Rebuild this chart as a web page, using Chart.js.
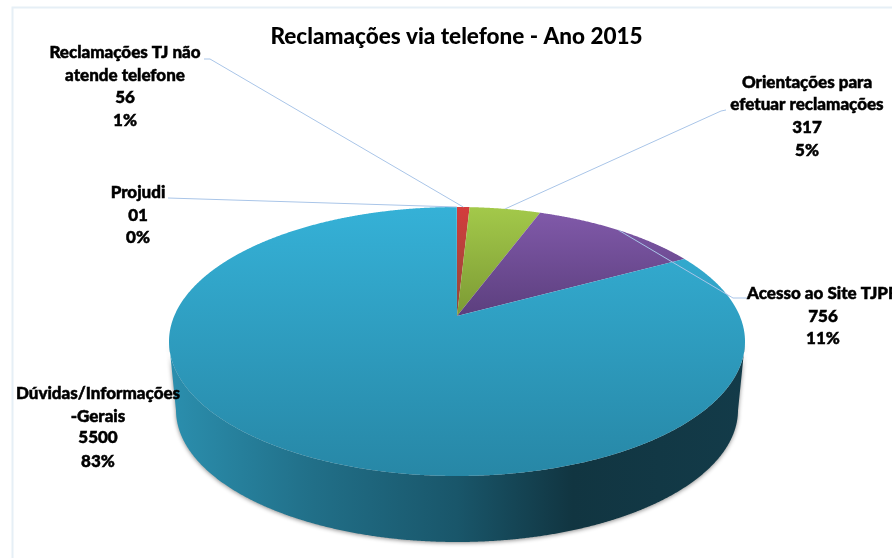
<!DOCTYPE html>
<html>
<head>
<meta charset="utf-8">
<title>Reclamações via telefone - Ano 2015</title>
<script src="https://cdn.jsdelivr.net/npm/chart.js@4"></script>
<style>
  html, body { margin: 0; padding: 0; background: #fff; }
  canvas { display: block; }
</style>
</head>
<body>
<canvas id="myPieChart" width="892" height="558"></canvas>
<script>
// chart values, clockwise from the top of the pie
const categories = [
  ['Reclamações TJ não', 'atende telefone'],
  ['Orientações para', 'efetuar reclamações'],
  ['Acesso ao Site TJPR'],
  ['Dúvidas/Informações', '-Gerais'],
  ['Projudi']
];
const values = [56, 317, 756, 5500, 1];
const valueLabels = ['56', '317', '756', '5500', '01'];
const percentLabels = ['1%', '5%', '11%', '83%', '0%'];

// gradient colours of the slices, top to bottom
const topColors = ['#d43c3c', '#a3c94a', '#8059a9', '#35b1d7', '#35b1d7'];
const bottomColors = ['#8e4a3a', '#7c9a34', '#5c3f7e', '#2787a6', '#2787a6'];

// label placement: centre x and the y of each text line
const labelX = [125, 807, 823, 98, 138];
const labelY = [
  [53, 76, 98, 121],
  [83, 105, 128, 151],
  [294, 317, 339],
  [394, 417, 438, 462],
  [193, 216, 238]
];
// leader lines: start beside the label, optional elbow, then the slice rim
const leaderStart = [[204, 59], [726, 110], [747, 298], null, [168, 198]];
const leaderElbow = [[210, 59], [721, 111], [733, 298], null, null];

// pie geometry (top face, bottom face, how far the apex sits above the ellipse centre)
const cx = 457, cy = 341.5, rx = 288, ry = 134.5;
const bottomCy = 410, bottomRx = 281, bottomRy = 132;
const apexShift = 0.19;

// perspective: a point on the unit circle goes to the ellipse, its centre to the apex
function project(theta) {
  const u = Math.sin(theta), v = -Math.cos(theta);
  const d = 1 - apexShift * v;
  return {
    u: u * Math.sqrt(1 - apexShift * apexShift) / d,
    v: (v - apexShift) / d
  };
}

const pie3d = {
  id: 'pie3d',
  beforeDraw(chart) {
    // pale frame of the original picture
    const ctx = chart.ctx;
    ctx.save();
    ctx.strokeStyle = '#e6eff6';
    ctx.lineWidth = 2;
    ctx.beginPath();
    ctx.moveTo(12.5, 558);
    ctx.lineTo(12.5, 7.5);
    ctx.lineTo(892, 7.5);
    ctx.stroke();
    ctx.restore();
  },
  // the library works out the slice angles, we only draw them in perspective
  beforeDatasetDraw(chart, args) {
    const ctx = chart.ctx;
    const arcs = args.meta.data;

    // side wall, only the part of each slice facing the viewer
    ctx.save();
    arcs.forEach((arc) => {
      const top = [], bottom = [];
      const start = arc.startAngle + Math.PI / 2;
      const end = arc.endAngle + Math.PI / 2;
      for (let t = start; t <= end; t += 0.004) {
        const p = project(t);
        if (p.v < 0) continue;
        top.push([cx + rx * p.u, cy + ry * p.v]);
        bottom.push([cx + bottomRx * p.u, bottomCy + bottomRy * p.v]);
      }
      if (!top.length) return;
      const grad = ctx.createLinearGradient(cx - rx, 0, cx + rx, 0);
      grad.addColorStop(0, '#2b8fae');
      grad.addColorStop(0.25, '#216f88');
      grad.addColorStop(0.5, '#19566a');
      grad.addColorStop(0.7, '#113541');
      grad.addColorStop(1, '#133b49');
      ctx.shadowColor = 'rgba(0,0,0,0.45)';
      ctx.shadowBlur = 4;
      ctx.shadowOffsetY = 1;
      ctx.fillStyle = grad;
      ctx.beginPath();
      top.forEach((pt, i) => (i ? ctx.lineTo(pt[0], pt[1]) : ctx.moveTo(pt[0], pt[1])));
      bottom.reverse().forEach((pt) => ctx.lineTo(pt[0], pt[1]));
      ctx.closePath();
      ctx.fill();
    });
    ctx.restore();

    // top face
    const apexY = cy - ry * apexShift;
    arcs.forEach((arc, i) => {
      const start = arc.startAngle + Math.PI / 2;
      const end = arc.endAngle + Math.PI / 2;
      const pts = [];
      let minY = apexY, maxY = apexY;
      for (let t = start; t < end; t += 0.004) {
        const p = project(t);
        pts.push([cx + rx * p.u, cy + ry * p.v]);
      }
      const last = project(end);
      pts.push([cx + rx * last.u, cy + ry * last.v]);
      pts.forEach((pt) => {
        minY = Math.min(minY, pt[1]);
        maxY = Math.max(maxY, pt[1]);
      });
      const grad = ctx.createLinearGradient(0, minY, 0, maxY);
      grad.addColorStop(0, topColors[i]);
      grad.addColorStop(1, bottomColors[i]);
      ctx.fillStyle = grad;
      ctx.beginPath();
      ctx.moveTo(cx, apexY);
      pts.forEach((pt) => ctx.lineTo(pt[0], pt[1]));
      ctx.closePath();
      ctx.fill();
    });
    return false;
  },
  afterDatasetsDraw(chart) {
    const ctx = chart.ctx;
    const arcs = chart.getDatasetMeta(0).data;

    // leader lines end on the rim at the middle of the slice
    ctx.save();
    ctx.strokeStyle = '#a9c5e8';
    ctx.lineWidth = 1;
    arcs.forEach((arc, i) => {
      if (!leaderStart[i]) return;
      const p = project((arc.startAngle + arc.endAngle) / 2 + Math.PI / 2);
      ctx.beginPath();
      ctx.moveTo(leaderStart[i][0], leaderStart[i][1]);
      if (leaderElbow[i]) ctx.lineTo(leaderElbow[i][0], leaderElbow[i][1]);
      ctx.lineTo(cx + rx * p.u, cy + ry * p.v);
      ctx.stroke();
    });

    // data labels, thin stroke to get the heavy look of the original
    ctx.fillStyle = '#000';
    ctx.strokeStyle = '#000';
    ctx.lineWidth = 0.5;
    ctx.font = '900 17px Lato';
    ctx.textAlign = 'center';
    ctx.textBaseline = 'middle';
    categories.forEach((lines, i) => {
      const text = lines.concat([valueLabels[i], percentLabels[i]]);
      text.forEach((line, j) => {
        ctx.fillText(line, labelX[i], labelY[i][j]);
        ctx.strokeText(line, labelX[i], labelY[i][j]);
      });
    });
    ctx.restore();
  }
};

const pieChart = new Chart(document.getElementById('myPieChart').getContext('2d'), {
  type: 'pie',
  data: {
    labels: categories.map((c) => c.join(' ')),
    datasets: [{ data: values, backgroundColor: topColors, borderWidth: 0 }]
  },
  options: {
    responsive: false,
    animation: false,
    layout: { padding: { left: 21 } },
    plugins: {
      legend: { display: false },
      tooltip: { enabled: false },
      title: {
        display: true,
        fullSize: false,
        text: 'Reclamações via telefone - Ano 2015',
        color: '#000',
        font: { family: 'Lato', size: 22.5, weight: '900' },
        padding: { top: 23, bottom: 10 }
      }
    }
  },
  plugins: [pie3d]
});
</script>
</body>
</html>
